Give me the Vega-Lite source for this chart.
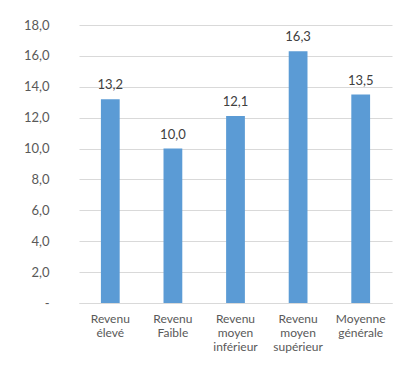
{
  "$schema": "https://vega.github.io/schema/vega-lite/v6.json",
  "width": 313,
  "height": 278,
  "autosize": {"type": "none"},
  "padding": {"left": 79, "top": 25, "right": 18, "bottom": 63},
  "background": "white",
  "data": {
    "values": [
      {"groupe": "Revenu\nélevé", "valeur": 13.2},
      {"groupe": "Revenu\nFaible", "valeur": 10.0},
      {"groupe": "Revenu\nmoyen\ninférieur", "valeur": 12.1},
      {"groupe": "Revenu\nmoyen\nsupérieur", "valeur": 16.3},
      {"groupe": "Moyenne\ngénérale", "valeur": 13.5}
    ]
  },
  "encoding": {
    "x": {
      "field": "groupe",
      "type": "nominal",
      "sort": null,
      "scale": {"paddingInner": 0.7, "paddingOuter": 0.35},
      "axis": {
        "title": null,
        "labelAngle": 0,
        "labelExpr": "split(datum.label, '\\n')",
        "labelFont": "Lato",
        "labelFontSize": 12,
        "labelColor": "#595959",
        "labelLineHeight": 14,
        "labelPadding": 10,
        "labelBaseline": "top",
        "ticks": false,
        "domain": true,
        "domainColor": "#d9d9d9",
        "domainWidth": 1
      }
    },
    "y": {
      "field": "valeur",
      "type": "quantitative",
      "scale": {"domain": [0, 18], "nice": false},
      "axis": {
        "title": null,
        "values": [0, 2, 4, 6, 8, 10, 12, 14, 16, 18],
        "labelExpr": "datum.value == 0 ? '-' : replace(format(datum.value, '.1f'), '.', ',')",
        "labelFont": "Lato",
        "labelFontSize": 13,
        "labelColor": "#595959",
        "labelPadding": 30,
        "ticks": false,
        "domain": false,
        "grid": true,
        "gridColor": "#d9d9d9",
        "gridWidth": 1
      }
    }
  },
  "layer": [
    {
      "mark": {"type": "bar", "color": "#5b9bd5"}
    },
    {
      "mark": {
        "type": "text",
        "baseline": "middle",
        "dy": -14,
        "font": "Lato",
        "fontSize": 13,
        "color": "#404040"
      },
      "encoding": {
        "text": {"field": "valeur", "type": "quantitative", "format": ".1f"}
      }
    }
  ],
  "config": {
    "view": {"stroke": null},
    "locale": {
      "number": {
        "decimal": ",",
        "thousands": " ",
        "grouping": [3],
        "currency": ["", " €"]
      }
    }
  }
}
